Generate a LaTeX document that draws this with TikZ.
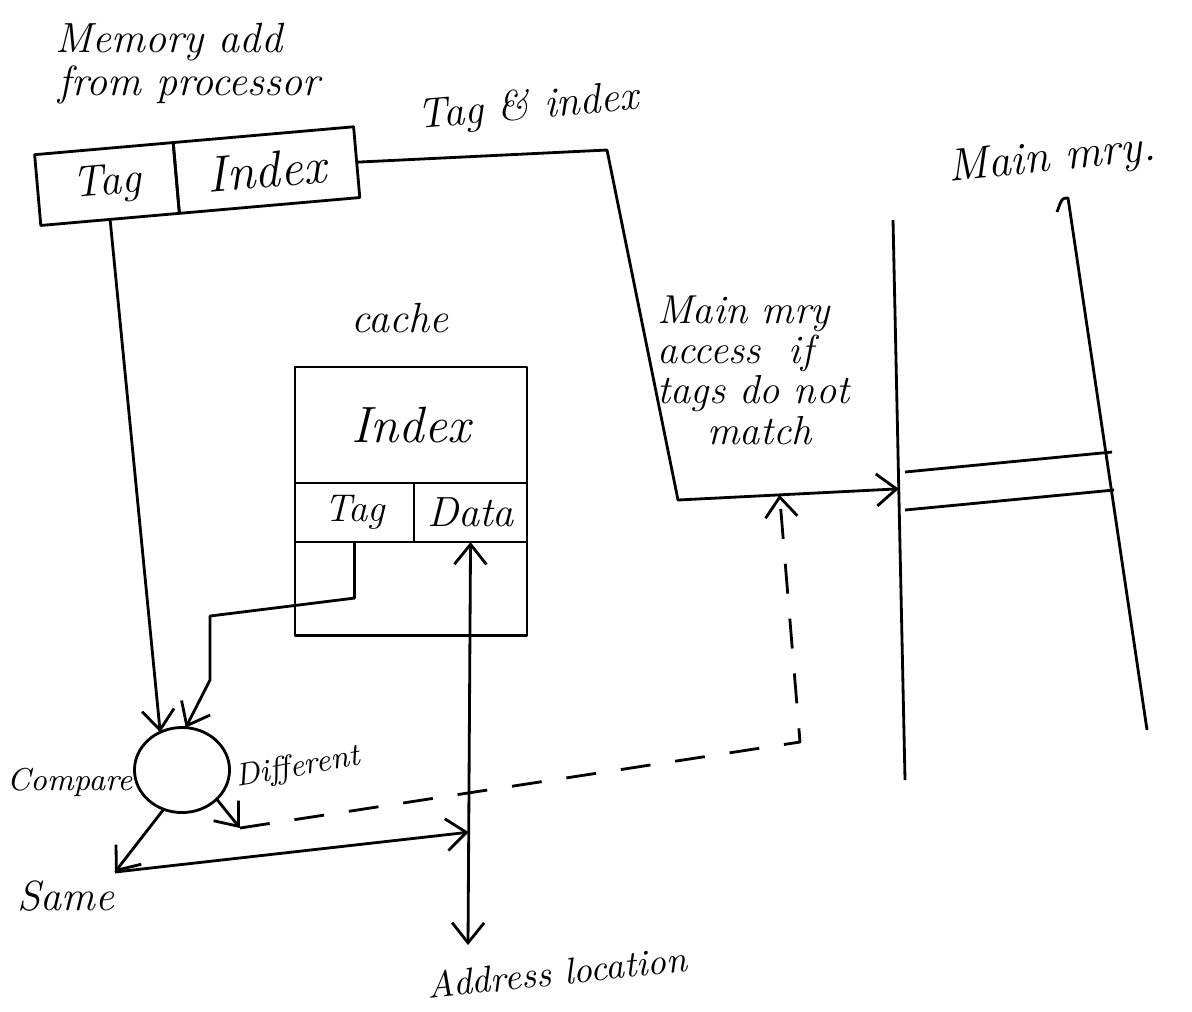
\documentclass[tikz,border=0pt]{standalone}
\usetikzlibrary{shapes.geometric,arrows.meta,calc}

\tikzset{
  hand/.style={font=\itshape\fontsize{12}{13}\selectfont},
  big hand/.style={font=\itshape\fontsize{14.5}{15}\selectfont},
  small hand/.style={font=\itshape\fontsize{9}{10}\selectfont},
  cell/.style={draw, thick, inner sep=0pt, outer sep=0pt},
  wire/.style={thick, -{Straight Barb[length=2mm,width=3.2mm]}},
  miss/.style={thick, dash pattern=on 3mm off 2.5mm, -{Straight Barb[length=2mm,width=3.2mm]}},
}

\begin{document}
\begin{tikzpicture}[x=0.01cm, y=-0.01cm, line join=round]
	
	\useasboundingbox (0,0) rectangle (1192,1011);
	
	% address coming from the processor
	\node[hand, anchor=south west, inner sep=0pt] (title) at (55,62) {Memory add};
	\node[hand, anchor=south west, inner sep=0pt] (title2) at (58,105) {from processor};
	\node[cell, big hand, rotate=5, minimum width=1.39cm, minimum height=0.71cm] (ptag) at (107,184) {\fontsize{12.5}{13}\selectfont Tag};
	\node[cell, big hand, rotate=5, minimum width=1.81cm, minimum height=0.71cm, anchor=west] (pidx) at (ptag.east) {Index};
	\node[hand, rotate=5] (tilbl) at (528,108) {Tag \& index};
	
	% cache
	\node[hand] (cachelbl) at (400,318) {cache};
	\node[cell, big hand, minimum width=2.32cm, minimum height=1.16cm] (cidx) at (411,425) {Index};
	\node[cell, hand, minimum width=1.19cm, minimum height=0.59cm, anchor=north west] (ctag) at (cidx.south west) {\fontsize{11}{12}\selectfont Tag};
	\node[cell, hand, minimum width=1.13cm, minimum height=0.59cm, anchor=north west] (cdata) at (ctag.north east) {Data};
	\node[cell, minimum width=2.32cm, minimum height=0.93cm, anchor=north west] (crow) at (ctag.south west) {};
	
	% comparator
	\node[cell, ellipse, minimum width=0.95cm, minimum height=0.85cm] (cmp) at (182,770) {};
	\node[small hand, anchor=east, inner sep=1pt] (cmplbl) at (cmp.195) {Compare};
	\coordinate (same) at (115,872);
	\node[hand] (samelbl) at (66,896) {Same};
	\coordinate (diff) at (240,828);
	\node[small hand, rotate=10] (difflbl) at (298,768) {Different};
	
	% main memory
	\coordinate (memtop) at (893,220);
	\coordinate (membot) at (905,780);
	\draw[thick] (memtop) -- (membot);
	\draw[thick] (1057,212) .. controls (1062,198) .. (1068,198) -- (1147,730);
	\draw[thick] (905,472) -- (1112,452);
	\draw[thick] (905,510) -- (1114,490);
	\node[hand, font=\itshape\fontsize{13}{14}\selectfont, rotate=6] (memlbl) at (1052,160) {Main mry.};
	\coordinate (memin) at ($(memtop)!0.48!(membot)$);
	
	% address lines
	\coordinate (acorner) at (678,500);
	\coordinate (addr) at (468,945);
	\coordinate (dhit) at ($(cdata.south)!0.72!(addr)$);
	\coordinate (dtip) at ($(acorner)!0.46!(memin)$);
	
	\draw[wire] (ptag.south) -- (cmp.120);
	\draw[wire] (ctag.south) -- ++(0,56) -- (210,616) -- (210,680) -- (cmp.85);
	\draw[wire] (pidx.east) -- (607,150) -- (acorner) -- (memin);
	\draw[thick, {Straight Barb[length=2mm,width=3.2mm]}-{Straight Barb[length=2mm,width=3.2mm]}] (cdata.south) -- (addr);
	\draw[wire] (cmp.245) -- (same);
	\draw[wire] (same) -- (dhit);
	\draw[wire] (cmp.320) -- (diff);
	\draw[miss] (diff) -- (800,742) -- (dtip);
	
	\node[hand, align=left, anchor=north west, font=\itshape\fontsize{11.5}{11.5}\selectfont] (misslbl) at (645,283) {Main mry\\access \ if\\tags do not\\\hspace*{5mm}match};
	\node[hand, font=\itshape\fontsize{10.5}{11}\selectfont, rotate=6] (addrlbl) at (557,972) {Address location};
	
\end{tikzpicture}
\end{document}
